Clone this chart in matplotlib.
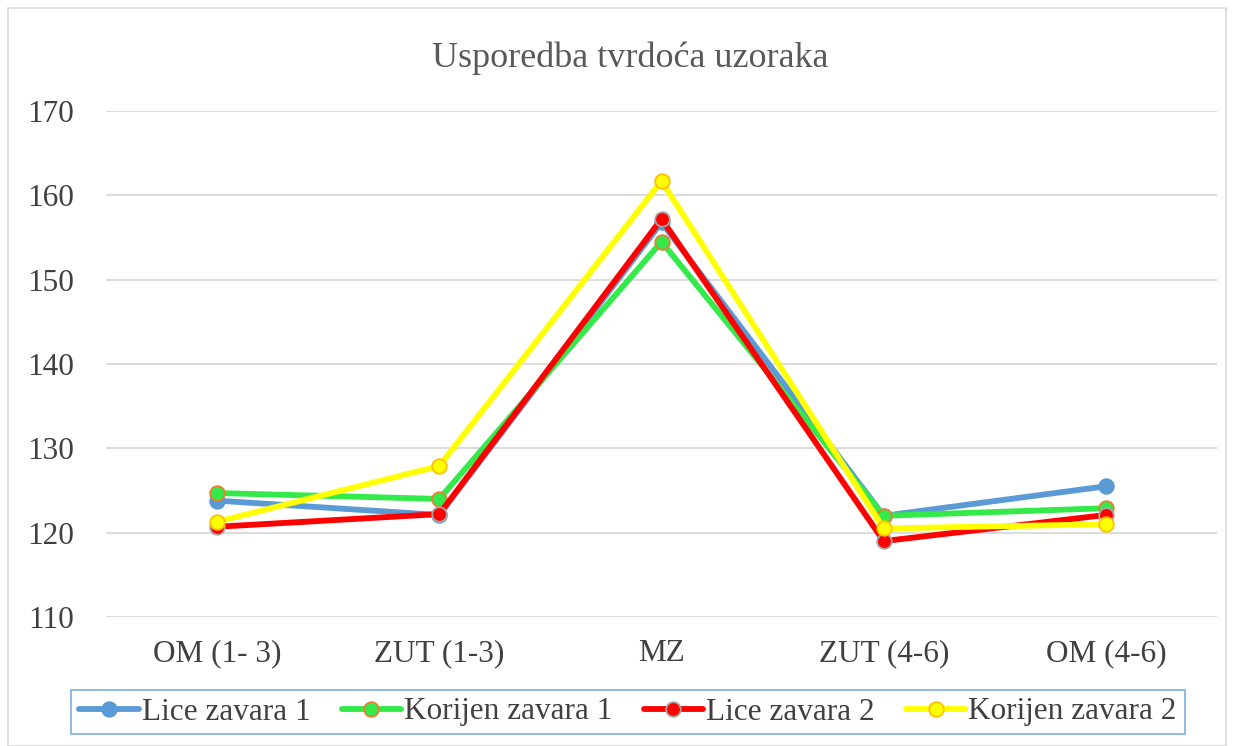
import numpy as np
import matplotlib
matplotlib.use("Agg")
import matplotlib.pyplot as plt
from matplotlib.patches import Rectangle

categories = ["OM (1- 3)", "ZUT (1-3)", "MZ", "ZUT (4-6)", "OM (4-6)"]
lice_1 = [123.8, 122.1, 156.8, 122.0, 125.5]
korijen_1 = [124.7, 124.0, 154.5, 122.0, 122.9]
lice_2 = [120.7, 122.2, 157.2, 119.0, 122.1]
korijen_2 = [121.3, 127.9, 161.7, 120.5, 121.0]

series = [
    ("Lice zavara 1", lice_1, "#5B9BD5", "#5B9BD5"),
    ("Korijen zavara 1", korijen_1, "#33EA4A", "#ED7D31"),
    ("Lice zavara 2", lice_2, "#FF0000", "#A5A5A5"),
    ("Korijen zavara 2", korijen_2, "#FFFF00", "#FFC000"),
]

plt.rcParams["font.family"] = ["Liberation Serif", "DejaVu Serif"]

fig = plt.figure(figsize=(12.34, 7.46), dpi=100)
ax = fig.add_axes([106 / 1234, 1 - 617 / 746, (1217 - 106) / 1234, (617 - 111) / 746])

x = np.arange(len(categories))
for name, vals, col, edge in series:
    ax.plot(x, vals, color=col, lw=4.2, marker="o", ms=10.5,
            markerfacecolor=col, markeredgecolor=edge, markeredgewidth=1.3,
            label=name, solid_capstyle="round", zorder=3)

ax.set_xlim(-0.5, len(categories) - 0.5)
ax.set_ylim(110, 170)
ax.set_yticks(np.arange(110, 171, 10))
ax.set_xticks(x)
ax.set_xticklabels(categories)
ax.grid(axis="y", color="#d9d9d9", lw=1.3)
ax.set_axisbelow(True)
for s in ax.spines.values():
    s.set_visible(False)
ax.tick_params(length=0, labelsize=22.5, colors="#404040")
ax.tick_params(axis="x", pad=16)
ax.tick_params(axis="y", pad=23)

fig.text(630 / 1234, 1 - 58 / 746, "Usporedba tvrdoća uzoraka", ha="center", va="center",
         fontsize=26, color="#595959")

leg = fig.legend(loc="center", bbox_to_anchor=(628 / 1234, 1 - 712 / 746), ncol=4,
                 fontsize=22.5, frameon=True, fancybox=False, handlelength=1.9,
                 handletextpad=0.1, columnspacing=1.0, borderpad=0.25)
leg.get_frame().set_edgecolor("#5B9BD5")
leg.get_frame().set_linewidth(1.2)
for t in leg.get_texts():
    t.set_color("#404040")

fig.patches.append(Rectangle((8 / 1234, 0.0), 1218 / 1234, 1 - 8 / 746, transform=fig.transFigure,
                             fill=False, edgecolor="#d9d9d9", lw=1.2))

fig.savefig("out.png", dpi=100)
